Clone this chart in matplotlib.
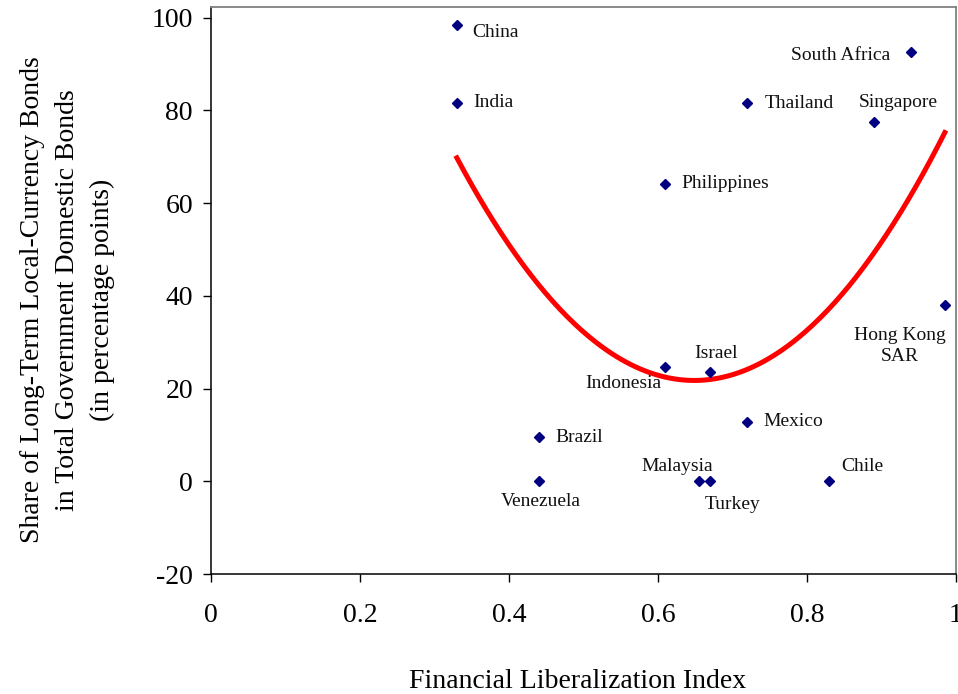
import numpy as np
import matplotlib
matplotlib.use("Agg")
import matplotlib.pyplot as plt
from matplotlib.ticker import FixedLocator, FixedFormatter

"""
    Long-term local-currency bonds vs. financial liberalization
"""

countries = ["China", "India", "Philippines", "Thailand", "South Africa", "Singapore",
             "Hong Kong\nSAR", "Israel", "Indonesia", "Mexico", "Brazil", "Venezuela",
             "Malaysia", "Turkey", "Chile"]
liberalization = [0.33, 0.33, 0.61, 0.72, 0.94, 0.89, 0.985, 0.67, 0.61, 0.72, 0.44,
                  0.44, 0.655, 0.67, 0.83]
bond_share = [98.5, 81.6, 64.2, 81.5, 92.5, 77.5, 38.0, 23.6, 24.6, 12.8, 9.5, 0.0,
              0.0, 0.0, 0.0]

# quadratic trend: y = a*x^2 + b*x + c
trend_coef = [472.8, -613.4, 220.7]

x_ticks = [0, 0.2, 0.4, 0.6, 0.8, 1]
x_tick_labels = ["0", "0.2", "0.4", "0.6", "0.8", "1"]
y_ticks = [-20, 0, 20, 40, 60, 80, 100]
y_tick_labels = ["-20", "0", "20", "40", "60", "80", "100"]

# label placement in pixels relative to the marker (dx, dy, ha)
label_offsets = {
    "China": (15, -8, "left"),
    "India": (16, 0, "left"),
    "Philippines": (16, 0, "left"),
    "Thailand": (17, 0, "left"),
    "South Africa": (-21, -3, "right"),
    "Singapore": (24, 19, "center"),
    "Hong Kong\nSAR": (-45, -41, "center"),
    "Israel": (6, 18, "center"),
    "Indonesia": (-42, -16, "center"),
    "Mexico": (16, 0, "left"),
    "Brazil": (17, 0, "left"),
    "Venezuela": (2, -20, "center"),
    "Malaysia": (-22, 15, "center"),
    "Turkey": (22, -23, "center"),
    "Chile": (12, 15, "left"),
}


def draw_chart():
    plt.rcParams['font.family'] = ['Liberation Serif', 'DejaVu Serif']
    fig = plt.figure(figsize=(9.58, 6.94), dpi=100)
    ax = fig.add_axes([211 / 958, 1 - 574 / 694, (956 - 211) / 958, (574 - 7) / 694])

    xs = np.linspace(min(liberalization), max(liberalization), 200)
    ax.plot(xs, np.polyval(trend_coef, xs), color="red", lw=3.6, zorder=2)
    ax.plot(liberalization, bond_share, linestyle="none", marker="D", markersize=5,
            color="#000080", zorder=3)

    for name, x, y in zip(countries, liberalization, bond_share):
        dx, dy, ha = label_offsets[name]
        ax.annotate(name, (x, y), xytext=(dx, dy), textcoords="offset pixels",
                    ha=ha, va="center", fontsize=14, color="#111111",
                    multialignment="center", linespacing=1.3)

    ax.set_xlim(0, 1)
    ax.set_ylim(-20, 102.3)
    ax.xaxis.set_major_locator(FixedLocator(x_ticks))
    ax.xaxis.set_major_formatter(FixedFormatter(x_tick_labels))
    ax.yaxis.set_major_locator(FixedLocator(y_ticks))
    ax.yaxis.set_major_formatter(FixedFormatter(y_tick_labels))
    ax.tick_params(axis="x", direction="out", length=6, width=1, pad=15, labelsize=20)
    ax.tick_params(axis="y", direction="out", length=6, width=1, pad=7, labelsize=20)

    for side in ["top", "right"]:
        ax.spines[side].set_color("#808080")
        ax.spines[side].set_linewidth(1.3)
    for side in ["left", "bottom"]:
        ax.spines[side].set_color("black")
        ax.spines[side].set_linewidth(1.1)

    fig.text(67.5 / 958, 1 - 300 / 694,
             "Share of Long-Term Local-Currency Bonds\nin Total Government Domestic Bonds\n(in percentage points)",
             rotation=90, ha="center", va="center", multialignment="center",
             fontsize=20, linespacing=1.5)
    fig.text(578 / 958, 1 - 682 / 694, "Financial Liberalization Index",
             ha="center", va="center", fontsize=20)

    fig.savefig("out.png", dpi=100)


if __name__ == '__main__':
    draw_chart()
